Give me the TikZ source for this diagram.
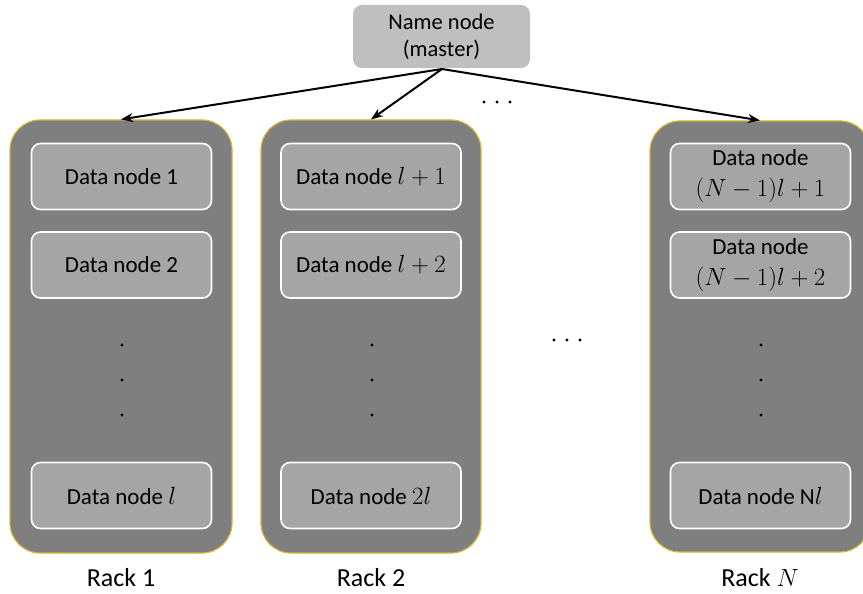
\documentclass[tikz,border=0pt]{standalone}
\usepackage{fontspec}
\setmainfont{Carlito}
\usetikzlibrary{arrows.meta}
\definecolor{rackgray}{HTML}{7F7F7F}
\definecolor{rackedge}{HTML}{D9B43A}
\definecolor{cellgray}{HTML}{A5A5A5}
\definecolor{mastergray}{HTML}{BFBFBF}
\begin{document}
\begin{tikzpicture}[x=1pt,y=-1pt,
  rackbox/.style={draw=rackedge, line width=1.2pt, fill=rackgray, rounded corners=30pt},
  cellbox/.style={draw=white, line width=1.6pt, fill=cellgray, rounded corners=9pt,
    minimum width=180pt, minimum height=66pt, inner sep=0pt, align=center,
    font=\fontsize{23}{28}\selectfont},
  master/.style={fill=mastergray, rounded corners=9pt, minimum width=177pt,
    minimum height=63pt, inner sep=0pt, align=center, font=\fontsize{22.5}{27}\selectfont},
  racklabel/.style={font=\fontsize{26}{30}\selectfont},
  vdot/.style={circle, fill=black, inner sep=0pt, minimum size=3.4pt},
  link/.style={line width=2pt, -{Stealth[length=12pt,width=9pt]}}]
\useasboundingbox (0,0) rectangle (863,594);

% name node
\node[master] (nn) at (441.5,36.5) {Name node\\(master)};

% racks
\node[rackbox, minimum width=222pt, minimum height=433pt, inner sep=0pt] (r1) at (121,336.5) {};
\node[rackbox, minimum width=220pt, minimum height=433pt, inner sep=0pt] (r2) at (371,336.5) {};
\node[rackbox, minimum width=220pt, minimum height=431pt, inner sep=0pt] (rN) at (760,336.5) {};

% rack 1
\node[cellbox] (a1) at (121.5,176.5) {Data node 1};
\node[cellbox] (a2) at (121.5,265) {Data node 2};
\node[cellbox] (al) at (121.5,495.5) {Data node $l$};
\node[vdot] (ad1) at (122,345) {};
\node[vdot] (ad2) at (122,380) {};
\node[vdot] (ad3) at (122,415) {};

% rack 2
\node[cellbox] (b1) at (371,176.5) {Data node $l+1$};
\node[cellbox] (b2) at (371,265) {Data node $l+2$};
\node[cellbox] (bl) at (371,495.5) {Data node $2l$};
\node[vdot] (bd1) at (372,345) {};
\node[vdot] (bd2) at (372,380) {};
\node[vdot] (bd3) at (372,415) {};

% rack N (two-line cells get a little more leading)
\node[cellbox] (c1) at (760.5,176.5) {Data node\\[3pt]$(N-1)l+1$};
\node[cellbox] (c2) at (760.5,265) {Data node\\[3pt]$(N-1)l+2$};
\node[cellbox] (cl) at (760.5,495.5) {Data node N$l$};
\node[vdot] (cd1) at (761,345) {};
\node[vdot] (cd2) at (761,380) {};
\node[vdot] (cd3) at (761,415) {};

% horizontal ellipses
\node[vdot] (h1) at (484,102) {};
\node[vdot] (h2) at (497,102) {};
\node[vdot] (h3) at (510,102) {};
\node[vdot] (m1) at (554,340) {};
\node[vdot] (m2) at (567,340) {};
\node[vdot] (m3) at (580,340) {};

% rack labels
\node[racklabel] (l1) at (121,578) {Rack 1};
\node[racklabel] (l2) at (371,578) {Rack 2};
\node[racklabel] (lN) at (760,578) {Rack $N$};

% links from the name node to each rack
\coordinate (src) at (442,69);
\draw[link] (src) -- (r1.north);
\draw[link] (src) -- (r2.north);
\draw[link] (src) -- (rN.north);
\end{tikzpicture}
\end{document}
